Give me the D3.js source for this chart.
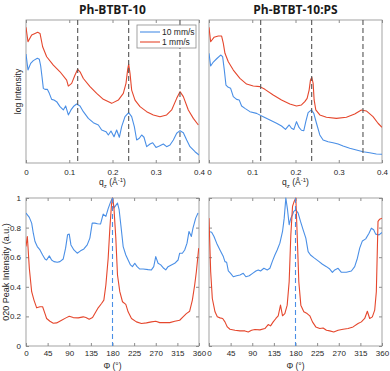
<!DOCTYPE html>
<html><head><meta charset="utf-8">
<script src="https://cdn.jsdelivr.net/npm/d3@7/dist/d3.min.js"></script>
<style>body{margin:0;background:#fff}svg{display:block}</style>
</head><body>
<svg id="chart" width="390" height="371"></svg>
<script>
// ---------- DATA ----------
const titles = ["Ph-BTBT-10", "Ph-BTBT-10:PS"];
const seriesNames = ["10 mm/s", "1 mm/s"];
const qTicks = [0, 0.1, 0.2, 0.3, 0.4];
const phiTicks = [0, 45, 90, 135, 180, 225, 270, 315, 360];
const peakTicks = [0, 0.2, 0.4, 0.6, 0.8, 1];
const braggPeaks = [0.1195, 0.2374, 0.356];
const phiMarker = [180];

// top-left: [q, log intensity (arb.)]
const neatRed = [[0,94.9],[0.0046,84.8],[0.0131,89.5],[0.0208,90.6],[0.027,91.4],[0.0324,90.6],[0.0385,81.3],[0.0478,74.3],[0.0632,68.5],[0.0786,63.8],[0.094,58],[0.0979,53.8],[0.1056,55.7],[0.1133,61.5],[0.1195,65.5],[0.1249,63.8],[0.1326,59.1],[0.148,53.4],[0.1634,48.7],[0.1788,44.5],[0.1981,41.7],[0.2135,44],[0.225,48.7],[0.2312,55.7],[0.2351,65.5],[0.2374,69.2],[0.2405,62.7],[0.2443,51],[0.252,44],[0.2636,39.4],[0.279,35.9],[0.2944,33.6],[0.3098,32.4],[0.3252,33.6],[0.3368,37.1],[0.3484,45.2],[0.3561,49.9],[0.3638,46.4],[0.3753,37.1],[0.3869,31.2],[0.3985,26.6]];
const neatBlue = [[0,76.2],[0.0046,65],[0.0108,69.7],[0.0169,71.6],[0.0262,73.2],[0.0308,72.5],[0.0339,68],[0.037,60.3],[0.0401,52.2],[0.0439,51.5],[0.0493,51.5],[0.0539,48.7],[0.0593,44.5],[0.0647,44],[0.0709,42.9],[0.0786,39.4],[0.0863,37.1],[0.0917,39.9],[0.0979,33.6],[0.104,37.1],[0.111,39.9],[0.1171,41.3],[0.1249,39.9],[0.1326,35.9],[0.1441,31.2],[0.1557,28.2],[0.1673,26.6],[0.175,23.1],[0.185,21.9],[0.1904,19.6],[0.1965,22.4],[0.2035,18.4],[0.2096,23.1],[0.2158,18],[0.2212,25.4],[0.2289,32.4],[0.2374,35.2],[0.2443,32.4],[0.2505,25.4],[0.2559,16.1],[0.262,17.3],[0.2674,19.6],[0.2728,18],[0.279,11.4],[0.2867,13.3],[0.2929,14.2],[0.3006,10.9],[0.3083,11.9],[0.3175,13.3],[0.3252,11.4],[0.3329,12.6],[0.3407,16.1],[0.3484,20.8],[0.3561,22.6],[0.3638,21.2],[0.3715,16.1],[0.3792,11.4],[0.3908,7.9],[0.4,5.6]];
// top-right
const psRed = [[0,94.9],[0.0038,84.8],[0.0115,87.9],[0.0215,88.8],[0.0292,88.8],[0.0331,83.7],[0.0369,76.7],[0.0446,70.8],[0.0562,65],[0.0715,59.2],[0.0869,55.2],[0.1023,53.8],[0.1177,53.4],[0.1292,51.5],[0.1485,47.6],[0.1677,44.1],[0.1869,41.3],[0.2023,39.9],[0.2138,40.6],[0.2215,42.9],[0.2269,45.2],[0.2315,51],[0.2346,58],[0.2377,59.9],[0.2408,55.7],[0.2431,44.1],[0.2469,37.1],[0.2562,33.6],[0.2715,32],[0.2946,31.2],[0.3177,32],[0.3369,34.3],[0.3523,37.1],[0.3638,36.4],[0.3792,32.4],[0.3908,27.8],[0.4,25]];
const psBlue = [[0,76.7],[0.0038,67.8],[0.01,70.6],[0.0177,72.9],[0.0269,75.5],[0.0315,74.4],[0.0354,65],[0.0392,54.5],[0.0446,52.9],[0.05,52.2],[0.0562,46.4],[0.0638,44.5],[0.07,44],[0.0754,39.9],[0.0831,38.2],[0.0946,35.9],[0.11,34.7],[0.1254,32.4],[0.1408,30.1],[0.1562,27.8],[0.1677,25.9],[0.1769,23.5],[0.1854,26.6],[0.1908,24.3],[0.1962,23.5],[0.2023,28.9],[0.2085,24.7],[0.2138,22.9],[0.2192,22.6],[0.2238,28.9],[0.2292,35.2],[0.2369,37.1],[0.2423,34.7],[0.2485,27.8],[0.2562,19.6],[0.2638,16.1],[0.2754,14.9],[0.2869,14.2],[0.2985,13.3],[0.31,11.9],[0.3254,10.3],[0.3408,9.1],[0.3562,7.9],[0.3715,7.2],[0.3869,6.3],[0.4,6.1]];
// bottom-left: [phi, 020 peak intensity]
const phiNeatBlue = [[0,0.898],[6.9,0.869],[11.8,0.83],[15.2,0.762],[18.7,0.706],[23.5,0.672],[29.1,0.649],[34.6,0.615],[39.5,0.588],[42.9,0.581],[48.5,0.609],[53.3,0.581],[58.2,0.57],[65.1,0.566],[70.6,0.57],[77.5,0.588],[82.4,0.661],[86.5,0.751],[90,0.756],[93.5,0.683],[99.7,0.649],[106.6,0.627],[113.5,0.643],[120.5,0.656],[127.4,0.683],[132.9,0.729],[137.8,0.83],[143.3,0.83],[148.8,0.826],[155.1,0.824],[160.6,0.891],[166.2,0.876],[171,0.928],[176.5,0.977],[180,1.0],[182.8,0.932],[186.9,0.95],[190.4,0.966],[193.8,0.921],[197.3,0.819],[202.2,0.672],[207.7,0.615],[212.5,0.581],[217.4,0.548],[221.5,0.536],[226.4,0.559],[231.2,0.536],[236.8,0.52],[243.7,0.52],[254.1,0.516],[261,0.514],[265.8,0.536],[270,0.604],[274.8,0.559],[280.4,0.548],[286.6,0.525],[290.8,0.514],[295.6,0.536],[302.5,0.548],[309.5,0.559],[316.4,0.581],[319.8,0.627],[325.4,0.627],[330.2,0.649],[335.1,0.695],[339.2,0.774],[344.1,0.74],[347.5,0.796],[353.1,0.864],[358,0.898]];
const phiNeatRed = [[0,0.672],[2.8,0.74],[6.9,0.525],[11.8,0.367],[16.6,0.31],[22.2,0.258],[29.1,0.265],[34.6,0.265],[39.5,0.219],[42.9,0.186],[49.8,0.167],[56.8,0.154],[63.7,0.156],[74.1,0.174],[83.1,0.19],[90,0.201],[98.3,0.192],[108.7,0.19],[119.1,0.197],[124.6,0.192],[131.5,0.181],[138.5,0.192],[143.3,0.219],[150.2,0.258],[157.2,0.287],[162,0.31],[166.2,0.412],[171,0.593],[174.5,0.796],[177.9,0.955],[180,1.0],[182.8,0.943],[186.9,0.729],[190.4,0.48],[195.2,0.367],[200.8,0.299],[207.7,0.281],[212.5,0.231],[219.5,0.186],[229.8,0.163],[240.2,0.152],[250.6,0.156],[261,0.163],[270,0.167],[278.3,0.158],[288.7,0.158],[299.1,0.158],[309.5,0.167],[319.8,0.174],[326.8,0.197],[333.7,0.219],[340.6,0.235],[346.2,0.31],[351,0.412],[354.5,0.502],[359.4,0.661]];
// bottom-right
const phiPsBlue = [[0,0.774],[5.5,0.769],[10.4,0.74],[15.9,0.695],[22.8,0.649],[29.8,0.604],[33.2,0.57],[36.7,0.566],[40.2,0.507],[45,0.491],[50.5,0.468],[57.5,0.475],[64.4,0.48],[71.3,0.491],[76.8,0.468],[83.8,0.475],[90.7,0.491],[97.6,0.507],[102.5,0.514],[107.3,0.507],[114.2,0.525],[121.2,0.514],[126.7,0.525],[132.2,0.575],[137.1,0.615],[141.9,0.649],[147.5,0.695],[153,0.774],[156.5,0.864],[159.9,1.0],[163.4,0.921],[166.8,0.819],[170.3,0.864],[173.8,0.887],[176.5,0.91],[180.7,0.921],[185.5,0.898],[190.4,0.842],[195.9,0.785],[201.5,0.729],[206.3,0.638],[211.2,0.615],[218.1,0.597],[227.1,0.575],[236.1,0.552],[244.4,0.536],[251.3,0.52],[256.8,0.498],[261.7,0.514],[268.6,0.525],[275.5,0.498],[285.9,0.498],[296.3,0.507],[303.2,0.536],[308.8,0.593],[313.6,0.661],[319.2,0.71],[326.1,0.724],[333,0.762],[337.8,0.796],[342.7,0.785],[346.8,0.756],[353.8,0.751],[360,0.767]];
const phiPsRed = [[0,0.864],[3.5,0.502],[6.9,0.321],[12.5,0.231],[17.3,0.197],[22.8,0.19],[28.4,0.186],[33.2,0.163],[38.1,0.129],[43.6,0.113],[54,0.106],[64.4,0.102],[74.8,0.102],[81.7,0.095],[88.6,0.106],[95.5,0.111],[105.9,0.109],[116.3,0.118],[123.2,0.145],[128.1,0.136],[133.6,0.163],[139.2,0.186],[144,0.204],[148.8,0.276],[153,0.204],[157.8,0.219],[162.7,0.276],[166.8,0.434],[170.3,0.751],[173.8,0.943],[177.2,0.977],[180.7,1.0],[183.5,0.751],[186.9,0.434],[191.1,0.276],[197.3,0.231],[204.2,0.219],[209.8,0.204],[215.3,0.163],[222.2,0.129],[230.5,0.118],[237.5,0.122],[244.4,0.106],[251.3,0.102],[259.6,0.095],[268.6,0.106],[279,0.113],[289.4,0.118],[299.8,0.129],[310.2,0.152],[317.1,0.163],[324,0.186],[329.5,0.235],[334.4,0.186],[339.9,0.197],[344.8,0.242],[348.2,0.367],[351.7,0.842],[355.2,0.857],[360,0.864]];

// ---------- STYLE / LAYOUT ----------
const BLUE = "#4a8fe6", RED = "#e5472d", AXIS = "#8c8c8c", TXT = "#262626";
const FONT = "'Liberation Sans', Arial, sans-serif";
const TICK_FS = "8px";
const svg = d3.select("#chart").style("font-family", FONT);
const cols = [{x0: 26, x1: 199}, {x0: 209, x1: 382}];
const rows = [{y0: 20, y1: 163}, {y0: 198, y1: 346}];

function panel(ci, ri, cfg) {
  const c = cols[ci], r = rows[ri];
  const x = d3.scaleLinear().domain(cfg.xDomain).range([c.x0, c.x1]);
  const y = d3.scaleLinear().domain(cfg.yDomain).range([r.y1, r.y0]);
  const g = svg.append("g");
  const id = "clip" + ci + ri;
  svg.append("clipPath").attr("id", id).append("rect")
    .attr("x", c.x0).attr("y", r.y0 - 1).attr("width", c.x1 - c.x0).attr("height", r.y1 - r.y0 + 2);

  g.append("rect").attr("x", c.x0).attr("y", r.y0).attr("width", c.x1 - c.x0).attr("height", r.y1 - r.y0)
    .attr("fill", "#fff").attr("stroke", AXIS).attr("stroke-width", 0.8);

  const xb = d3.axisBottom(x).tickValues(cfg.xTicks).tickSize(-3).tickPadding(cfg.xPad)
    .tickFormat(cfg.xFmt);
  const gx = g.append("g").attr("transform", `translate(0,${r.y1})`).call(xb);
  const xt = d3.axisTop(x).tickValues(cfg.xTicks).tickSize(-3).tickFormat("");
  const gxt = g.append("g").attr("transform", `translate(0,${r.y0})`).call(xt);
  [gx, gxt].forEach(a => { a.select(".domain").remove(); a.selectAll("line").attr("stroke", AXIS); });
  gx.selectAll("text").attr("fill", TXT).style("font-size", TICK_FS).style("font-family", FONT);

  if (cfg.yTicks) {
    const yl = d3.axisLeft(y).tickValues(cfg.yTicks).tickSize(-3).tickPadding(5)
      .tickFormat(cfg.yLabels ? d3.format("~g") : "");
    const gy = g.append("g").attr("transform", `translate(${c.x0},0)`).call(yl);
    const yr = d3.axisRight(y).tickValues(cfg.yTicks).tickSize(-3).tickFormat("");
    const gyr = g.append("g").attr("transform", `translate(${c.x1},0)`).call(yr);
    [gy, gyr].forEach(a => { a.select(".domain").remove(); a.selectAll("line").attr("stroke", AXIS); });
    gy.selectAll("text").attr("fill", TXT).style("font-size", TICK_FS).style("font-family", FONT);
  }

  const vl = g.append("g");
  cfg.vlines.forEach(v => {
    vl.append("line").attr("x1", x(v)).attr("x2", x(v)).attr("y1", r.y0).attr("y2", r.y1)
      .attr("stroke", cfg.vColor).attr("stroke-width", 1.1).attr("stroke-dasharray", "5,3");
  });

  const line = d3.line().x(d => x(d[0])).y(d => y(d[1]));
  const lg = g.append("g").attr("clip-path", `url(#${id})`);
  cfg.series.forEach(s => {
    lg.append("path").datum(s.data).attr("d", line).attr("fill", "none")
      .attr("stroke", s.color).attr("stroke-width", 1.1).attr("stroke-linejoin", "round");
  });
  vl.raise();
  return {x, y, g};
}

const topCfg = (series) => ({
  xDomain: [0, 0.4], yDomain: [0, 100], xTicks: qTicks, xFmt: d3.format("~g"), xPad: 6,
  yTicks: null, vlines: braggPeaks, vColor: "#555", series
});
const botCfg = (series, labels) => ({
  xDomain: [0, 360], yDomain: [0, 1], xTicks: phiTicks, xFmt: d3.format("d"), xPad: 4,
  yTicks: peakTicks, yLabels: labels, vlines: phiMarker, vColor: BLUE, series
});

panel(0, 0, topCfg([{data: neatBlue, color: BLUE}, {data: neatRed, color: RED}]));
panel(1, 0, topCfg([{data: psBlue, color: BLUE}, {data: psRed, color: RED}]));
panel(0, 1, botCfg([{data: phiNeatBlue, color: BLUE}, {data: phiNeatRed, color: RED}], true));
panel(1, 1, botCfg([{data: phiPsBlue, color: BLUE}, {data: phiPsRed, color: RED}], false));

titles.forEach((t, i) => {
  svg.append("text").attr("x", (cols[i].x0 + cols[i].x1) / 2).attr("y", 14)
    .attr("text-anchor", "middle").attr("fill", "#1a1a1a")
    .style("font-family", "'Open Sans', sans-serif").style("font-weight", "bold").style("font-size", "12px")
    .text(t);
});

function qLabel(cx) {
  const t = svg.append("text").attr("x", cx).attr("y", 185).attr("text-anchor", "middle")
    .attr("fill", TXT).style("font-size", "8.5px");
  t.append("tspan").text("q");
  t.append("tspan").attr("dy", 2.5).style("font-size", "6px").text("z");
  t.append("tspan").attr("dy", -2.5).text(" (Å");
  t.append("tspan").attr("dy", -3.5).style("font-size", "6px").text("-1");
  t.append("tspan").attr("dy", 3.5).text(")");
}
cols.forEach(c => qLabel((c.x0 + c.x1) / 2));
cols.forEach(c => {
  svg.append("text").attr("x", (c.x0 + c.x1) / 2).attr("y", 369).attr("text-anchor", "middle")
    .attr("fill", TXT).style("font-size", "8.5px").text("Φ (°)");
});
svg.append("text").attr("transform", `translate(21,${(rows[0].y0 + rows[0].y1) / 2}) rotate(-90)`)
  .attr("text-anchor", "middle").attr("fill", TXT).style("font-size", "8.5px").text("log Intensity");
svg.append("text").attr("transform", `translate(9,${(rows[1].y0 + rows[1].y1) / 2}) rotate(-90)`)
  .attr("text-anchor", "middle").attr("fill", TXT).style("font-size", "9px").text("020 Peak Intensity (a.u.)");

const lgd = svg.append("g");
lgd.append("rect").attr("x", 137).attr("y", 25).attr("width", 59).attr("height", 23)
  .attr("fill", "#fff").attr("stroke", AXIS).attr("stroke-width", 0.8);
[BLUE, RED].forEach((col, i) => {
  const yy = 32 + i * 10;
  lgd.append("line").attr("x1", 140).attr("x2", 160).attr("y1", yy).attr("y2", yy)
    .attr("stroke", col).attr("stroke-width", 1.1);
  lgd.append("text").attr("x", 162).attr("y", yy + 3).attr("fill", TXT).style("font-size", "8.5px")
    .text(seriesNames[i]);
});
</script>
</body></html>
